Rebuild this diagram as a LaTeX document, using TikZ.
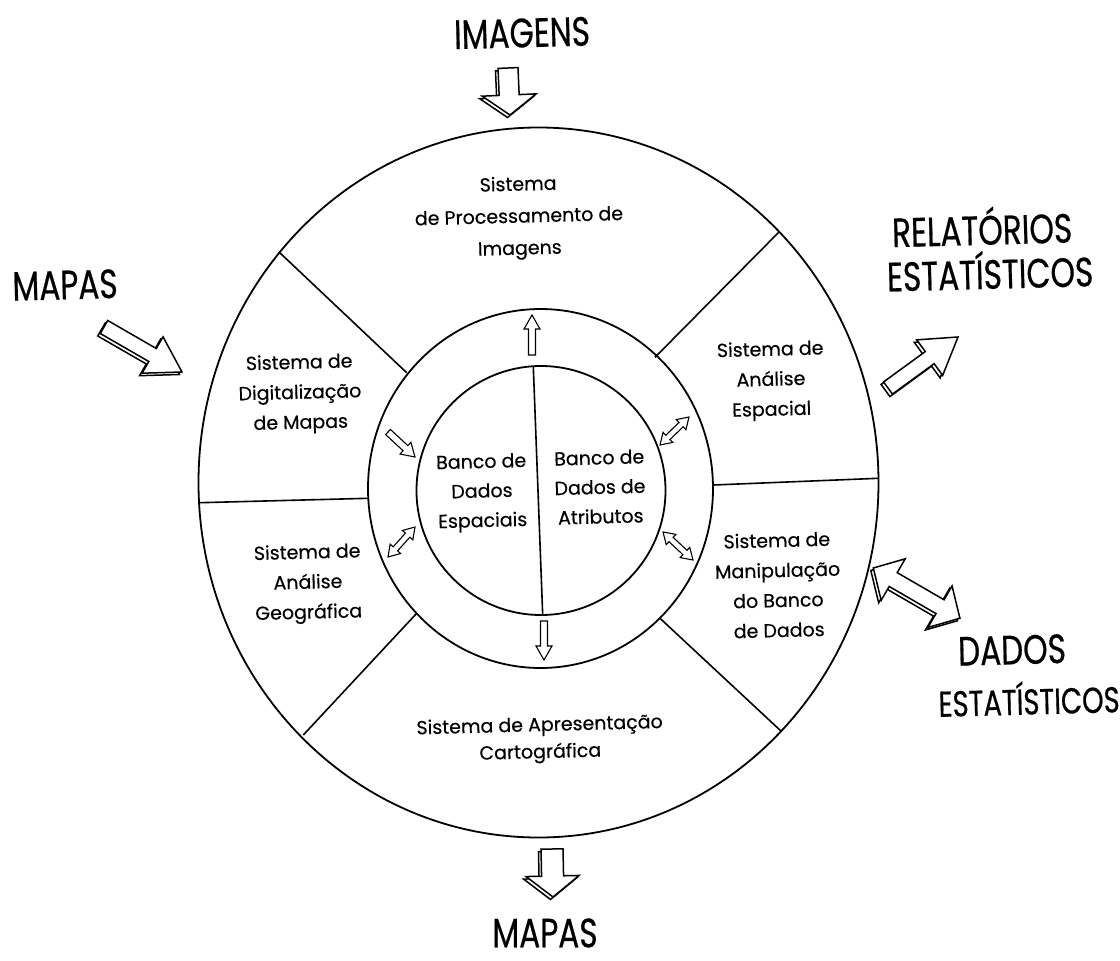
\documentclass[tikz,border=0pt]{standalone}
\usepackage{fontspec}
\setmainfont{Poppins}[FakeBold=0.4]
\newfontfamily\bigfont[FakeStretch=0.76,FakeBold=0.5]{Poppins}
\usetikzlibrary{calc}

\newcommand\arrgeom[2]{%
  \pgfpointdiff{\pgfpointanchor{#1}{center}}{\pgfpointanchor{#2}{center}}%
  \pgfgetlastxy{\arrdx}{\arrdy}%
  \pgfmathveclen{\arrdx}{\arrdy}\let\arrlen\pgfmathresult
  \pgfmathanglebetweenpoints{\pgfpointanchor{#1}{center}}{\pgfpointanchor{#2}{center}}\let\arrang\pgfmathresult}

% #1 style, #2 from, #3 to, #4 shaft half width, #5 head half width, #6 head length
\newcommand\singlearrow[6]{%
  \arrgeom{#2}{#3}%
  \pgfmathsetmacro\arrb{\arrlen-#6}%
  \path[shift={(#2)},#1,rotate=\arrang] (0pt,-#4pt) -- (\arrb pt,-#4pt) -- (\arrb pt,-#5pt) -- (\arrlen pt,0pt) -- (\arrb pt,#5pt) -- (\arrb pt,#4pt) -- (0pt,#4pt) -- cycle;}

\newcommand\doublearrow[6]{%
  \arrgeom{#2}{#3}%
  \pgfmathsetmacro\arrb{\arrlen-#6}%
  \path[shift={(#2)},#1,rotate=\arrang] (0pt,0pt) -- (#6pt,#5pt) -- (#6pt,#4pt) -- (\arrb pt,#4pt) -- (\arrb pt,#5pt) -- (\arrlen pt,0pt) -- (\arrb pt,-#5pt) -- (\arrb pt,-#4pt) -- (#6pt,-#4pt) -- (#6pt,-#5pt) -- cycle;}

\tikzset{
  ring/.style={line width=1.8pt},
  divider/.style={line width=1.6pt},
  sector/.style={align=center, inner sep=0pt, rotate=1.5, font=\fontsize{19}{30}\selectfont},
  biglabel/.style={inner sep=0pt, rotate=1.5, font=\bigfont\fontsize{41}{45}\selectfont},
  arrowface/.style={draw, fill=white, line width=1.5pt, line join=miter},
  arrowshadow/.style={draw, fill=white, line width=1.5pt, line join=miter, xshift=-2.5pt, yshift=-2.5pt},
  smallarrow/.style={draw, fill=white, line width=1.1pt, line join=miter},
}

\begin{document}
\begin{tikzpicture}[x=1pt,y=-1pt]
\useasboundingbox (0,0) rectangle (1120,961);
\fill[white] (0,0) rectangle (1120,961);

% centres
\coordinate (cO) at (538.5,482.5);
\coordinate (cM) at (540.5,488.5);
\coordinate (cI) at (541,490.5);

\draw[ring] (cO) ellipse [x radius=340pt, y radius=355pt];
\draw[ring] (cM) ellipse [x radius=172.5pt, y radius=179.5pt];
\draw[ring] (cI) ellipse [x radius=124.5pt, y radius=124.5pt];

% dividers
\coordinate (dUL1) at (406.7,372.7); \coordinate (dUL2) at (279,252);
\coordinate (dUR1) at (655,357.3);   \coordinate (dUR2) at (779,232);
\coordinate (dL1) at (368.3,498.3);  \coordinate (dL2) at (199.5,502.7);
\coordinate (dR1) at (713.3,485);    \coordinate (dR2) at (878.3,478.3);
\coordinate (dLL1) at (416.7,613.3); \coordinate (dLL2) at (303.3,735);
\coordinate (dLR1) at (660,618.3);   \coordinate (dLR2) at (781.7,731.7);
\coordinate (dV1) at (533.3,366.5);  \coordinate (dV2) at (542.7,615);
\draw[divider] (dUL1) -- (dUL2);
\draw[divider] (dUR1) -- (dUR2);
\draw[divider] (dL1) -- (dL2);
\draw[divider] (dR1) -- (dR2);
\draw[divider] (dLL1) -- (dLL2);
\draw[divider] (dLR1) -- (dLR2);
\draw[divider] (dV1) -- (dV2);

% sector texts
\node[sector, font=\fontsize{19}{32}\selectfont] (sTop) at (519,218) {Sistema\\de Processamento de\\Imagens};
\node[sector] (sUL) at (300,394) {Sistema de\\Digitalização\\de Mapas};
\node[sector] (sLL) at (308,584) {Sistema de\\Análise\\Geográfica};
\node[sector] (sUR) at (771,381) {Sistema de\\Análise\\Espacial};
\node[sector] (sLR) at (778,585) {Sistema de\\Manipulação\\do Banco\\de Dados};
\node[sector, font=\fontsize{19}{27}\selectfont] (sBot) at (540,740) {Sistema de Apresentação\\Cartográfica};
\node[sector, font=\fontsize{19}{29.5}\selectfont] (bL) at (482,493) {Banco de\\Dados\\Espaciais};
\node[sector, font=\fontsize{19}{29.5}\selectfont] (bR) at (600,487) {Banco de\\Dados de\\Atributos};

% big labels
\node[biglabel] (tImg) at (522,33) {IMAGENS};
\node[biglabel] (tMapL) at (65,285) {MAPAS};
\node[biglabel] (tRel1) at (982,226) {RELATÓRIOS};
\node[biglabel] (tRel2) at (990,270) {ESTATÍSTICOS};
\node[biglabel] (tDad1) at (1012,650) {DADOS};
\node[biglabel, font=\bigfont\fontsize{36}{40}\selectfont] (tDad2) at (1029,698) {ESTATÍSTICOS};
\node[biglabel, rotate=-1.5] (tMapB) at (545,933) {MAPAS};

% big arrows
\coordinate (aImg1) at (508,68);  \coordinate (aImg2) at (510,115);
\coordinate (aMB1) at (552,849);  \coordinate (aMB2) at (553,897);
\coordinate (aML1) at (104,327);  \coordinate (aML2) at (182,372);
\coordinate (aRel1) at (888,388); \coordinate (aRel2) at (958,337);
\coordinate (aDad1) at (873.3,568); \coordinate (aDad2) at (960,618.3);
\singlearrow{arrowshadow}{aImg1}{aImg2}{10}{27}{20}
\singlearrow{arrowface}{aImg1}{aImg2}{10}{27}{20}
\singlearrow{arrowshadow}{aMB1}{aMB2}{11}{26.5}{21}
\singlearrow{arrowface}{aMB1}{aMB2}{11}{26.5}{21}
\singlearrow{arrowshadow}{aML1}{aML2}{7.5}{21}{34}
\singlearrow{arrowface}{aML1}{aML2}{7.5}{21}{34}
\singlearrow{arrowshadow}{aRel1}{aRel2}{7.5}{22}{35}
\singlearrow{arrowface}{aRel1}{aRel2}{7.5}{22}{35}
\doublearrow{arrowshadow}{aDad1}{aDad2}{8}{24}{23}
\doublearrow{arrowface}{aDad1}{aDad2}{8}{24}{23}

% small arrows
\coordinate (sT1) at (532,355);   \coordinate (sT2) at (532,315);
\coordinate (sB1) at (544,621);   \coordinate (sB2) at (544,660);
\coordinate (sL1) at (388,432);   \coordinate (sL2) at (415,457);
\coordinate (sLL1) at (388,557);  \coordinate (sLL2) at (415,527);
\coordinate (sRU1) at (660,445);  \coordinate (sRU2) at (689,417);
\coordinate (sRL1) at (663,532);  \coordinate (sRL2) at (693,560);
\singlearrow{smallarrow}{sT1}{sT2}{3.5}{8}{14}
\singlearrow{smallarrow}{sB1}{sB2}{3.5}{8}{14}
\singlearrow{smallarrow}{sL1}{sL2}{3.5}{8}{13}
\doublearrow{smallarrow}{sLL1}{sLL2}{3}{7}{11}
\doublearrow{smallarrow}{sRU1}{sRU2}{3}{7}{11}
\doublearrow{smallarrow}{sRL1}{sRL2}{3}{7}{11}
\end{tikzpicture}
\end{document}
